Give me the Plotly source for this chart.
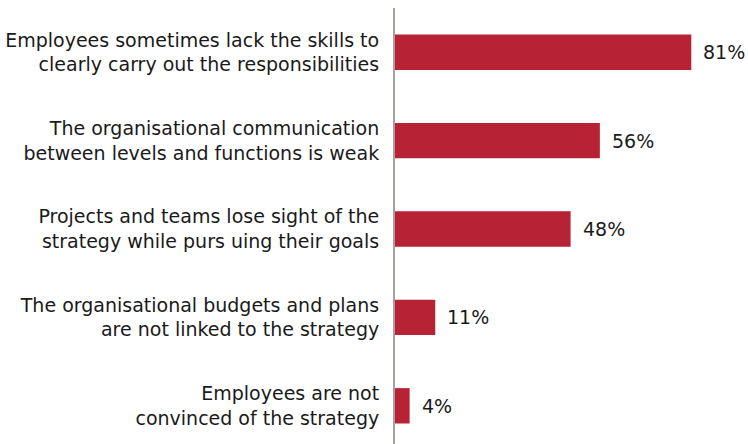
import plotly.graph_objects as go

categories = [
    "Employees sometimes lack the skills to<br>clearly carry out the responsibilities",
    "The organisational communication<br>between levels and functions is weak",
    "Projects and teams lose sight of the<br>strategy while purs uing their goals",
    "The organisational budgets and plans<br>are not linked to the strategy",
    "Employees are not<br>convinced of the strategy",
]
values = [81, 56, 48, 11, 4]

BAR_COLOR = "#B82235"
TEXT_COLOR = "#1a1a1a"
FONT = "DejaVu Sans, Arial, Helvetica, sans-serif"
FONT_SIZE = 19

fig = go.Figure(
    go.Bar(
        x=values,
        y=categories,
        orientation="h",
        width=0.4,
        marker=dict(color=BAR_COLOR, line=dict(width=0)),
        hoverinfo="skip",
    )
)

# value labels to the right of each bar
for cat, v in zip(categories, values):
    fig.add_annotation(
        x=v, y=cat, text=f"{v}%", showarrow=False,
        xanchor="left", yanchor="middle", xshift=10,
        font=dict(size=FONT_SIZE, color=TEXT_COLOR, family=FONT),
    )

fig.update_layout(
    width=748,
    height=444,
    margin=dict(l=395, r=0, t=8, b=0),
    paper_bgcolor="white",
    plot_bgcolor="white",
    showlegend=False,
    font=dict(family=FONT, size=FONT_SIZE, color=TEXT_COLOR),
    xaxis=dict(
        range=[0, 96.5], visible=False, showgrid=False, zeroline=False,
    ),
    yaxis=dict(
        type="category",
        range=[4.432, -0.5],
        showline=True, linecolor="#A89F98", linewidth=2,
        showgrid=False, zeroline=False, ticks="",
        ticklabelstandoff=10,
        tickfont=dict(size=FONT_SIZE, color=TEXT_COLOR, family=FONT),
    ),
)

fig.write_html("out.html")
